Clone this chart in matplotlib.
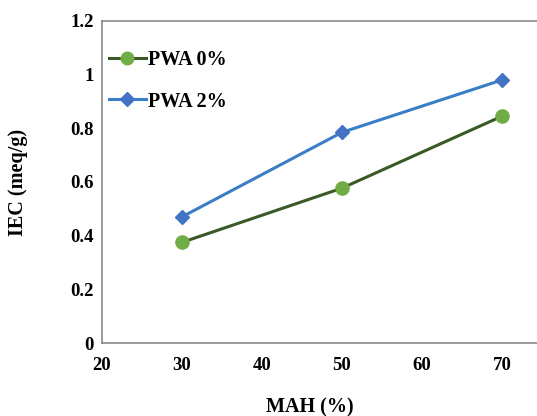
import matplotlib
matplotlib.use("Agg")
import matplotlib.pyplot as plt

mah = [30, 50, 70]
iec_pwa0 = [0.375, 0.577, 0.845]
iec_pwa2 = [0.47, 0.785, 0.98]
series_labels = ["PWA 0%", "PWA 2%"]
x_ticks = [20, 30, 40, 50, 60, 70]
y_ticks = [0, 0.2, 0.4, 0.6, 0.8, 1.0, 1.2]
y_tick_labels = ["0", "0.2", "0.4", "0.6", "0.8", "1", "1.2"]

plt.rcParams["font.family"] = ["Liberation Serif", "DejaVu Serif"]
plt.rcParams["font.weight"] = "bold"

fig = plt.figure(figsize=(5.37, 4.16), dpi=100)
ax = fig.add_axes([102 / 537, 1 - 343 / 416, 435 / 537, 322 / 416])

ax.plot(mah, iec_pwa0, color="#3a5a25", linewidth=2.2, marker="o",
        markersize=9.5, markerfacecolor="#70ad47", markeredgecolor="#70ad47",
        label=series_labels[0], zorder=3)
ax.plot(mah, iec_pwa2, color="#3a7ec6", linewidth=2.2, marker="D",
        markersize=7, markerfacecolor="#4472c4", markeredgecolor="#4472c4",
        label=series_labels[1], zorder=3)

ax.set_xlim(20, 74.4)
ax.set_ylim(0, 1.2)
ax.set_xticks(x_ticks)
ax.set_yticks(y_ticks)
ax.set_yticklabels(y_tick_labels)
ax.tick_params(axis="both", length=0, labelsize=13.5)
ax.tick_params(axis="x", pad=10)
ax.tick_params(axis="y", pad=6)
for lbl in ax.get_xticklabels() + ax.get_yticklabels():
    lbl.set_fontweight("bold")

for side in ["left", "bottom", "top"]:
    ax.spines[side].set_color("#808080")
    ax.spines[side].set_linewidth(1.1)
ax.spines["right"].set_visible(False)

fig.text(310 / 537, 1 - 407 / 416, "MAH (%)", ha="center", va="center",
         fontsize=14.5, fontweight="bold")
fig.text(18 / 537, 1 - 182 / 416, "IEC (meq/g)", ha="center", va="center",
         rotation=90, fontsize=14.5, fontweight="bold")

leg = ax.legend(loc="upper left", bbox_to_anchor=(-0.025, 0.965), frameon=False,
                fontsize=14.5, handlelength=1.8, handletextpad=0.1,
                labelspacing=1.05, markerscale=0.95)
for t in leg.get_texts():
    t.set_fontweight("bold")

fig.savefig("out.png", dpi=100)
